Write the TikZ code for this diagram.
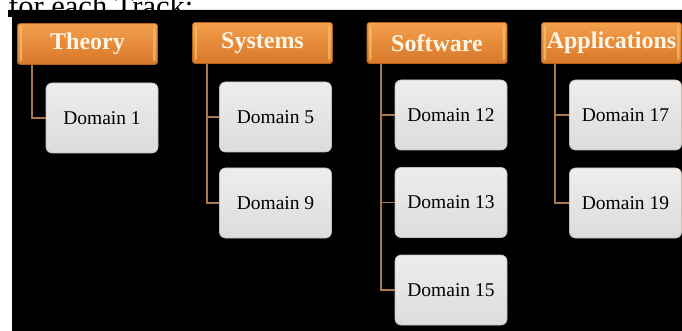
\documentclass[tikz,border=0pt]{standalone}
\usepackage{fontspec}
\setmainfont{Liberation Serif}
\usetikzlibrary{calc}
\definecolor{hdrtop}{HTML}{F3A04C}
\definecolor{hdrbot}{HTML}{D7772A}
\definecolor{hdrline}{HTML}{B7621C}
\definecolor{hdrend}{HTML}{F6C46A}
\definecolor{hdrtext}{HTML}{FFF6E6}
\definecolor{boxtop}{HTML}{EDEDED}
\definecolor{boxbot}{HTML}{DCDCDC}
\definecolor{boxline}{HTML}{C9BFB5}
\definecolor{connc}{HTML}{A8784E}
\tikzset{
  header/.style={rounded corners=2.5pt, top color=hdrtop, bottom color=hdrbot,
    draw=hdrline, line width=0.6pt, minimum width=140pt, minimum height=41pt,
    inner sep=0pt, text=hdrtext,
    font=\fontsize{24}{26}\selectfont\bfseries,
    path picture={
      \fill[hdrend,opacity=0.7] ([xshift=2pt,yshift=-3pt]path picture bounding box.north west) rectangle ([xshift=4.5pt,yshift=3pt]path picture bounding box.south west);
      \fill[hdrend,opacity=0.7] ([xshift=-2pt,yshift=-3pt]path picture bounding box.north east) rectangle ([xshift=-4.5pt,yshift=3pt]path picture bounding box.south east);
    }},
  dombox/.style={rounded corners=6pt, top color=boxtop, bottom color=boxbot,
    draw=boxline, line width=0.6pt, minimum width=112pt, minimum height=70pt,
    inner sep=0pt, text=black, font=\fontsize{19.5}{22}\selectfont},
  conn/.style={draw=connc, line width=1.6pt},
}
\begin{document}
\begin{tikzpicture}[x=1pt,y=-1pt]
\useasboundingbox (0,0) rectangle (682,331);
\clip (0,0) rectangle (682,331);
\node[anchor=base west, inner sep=0pt, font=\fontsize{30.5}{34}\selectfont] (title) at (8,17) {for each Track:};
\fill[black] (8,10) -- (682,10) -- (682,331) -- (12,331) -- (12,17) -- (8,17) -- cycle;
% headers
\node[header] (h1) at (87.5,44) {Theory};
\node[header] (h2) at (262.5,43) {Systems};
\node[header] (h3) at (437,43) {Software};
\node[header] (h4) at (611.5,43) {Applications};
% domain boxes
\node[dombox] (d1) at (102,118) {Domain 1};
\node[dombox] (d5) at (275.5,117) {Domain 5};
\node[dombox] (d9) at (275.5,203) {Domain 9};
\node[dombox] (d12) at (451,115) {Domain 12};
\node[dombox] (d13) at (451,202.5) {Domain 13};
\node[dombox] (d15) at (451,290) {Domain 15};
\node[dombox] (d17) at (625.5,115) {Domain 17};
\node[dombox] (d19) at (625.5,203) {Domain 19};
% connectors
\draw[conn] ($(h1.south west)+(15,0)$) |- (d1.west);
\draw[conn] ($(h2.south west)+(14.5,0)$) |- (d5.west);
\draw[conn] ($(h2.south west)+(14.5,0)$) |- (d9.west);
\draw[conn] ($(h3.south west)+(14.5,0)$) |- (d12.west);
\draw[conn] ($(h3.south west)+(14.5,0)$) |- (d13.west);
\draw[conn] ($(h3.south west)+(14.5,0)$) |- (d15.west);
\draw[conn] ($(h4.south west)+(13.5,0)$) |- (d17.west);
\draw[conn] ($(h4.south west)+(13.5,0)$) |- (d19.west);
\end{tikzpicture}
\end{document}
